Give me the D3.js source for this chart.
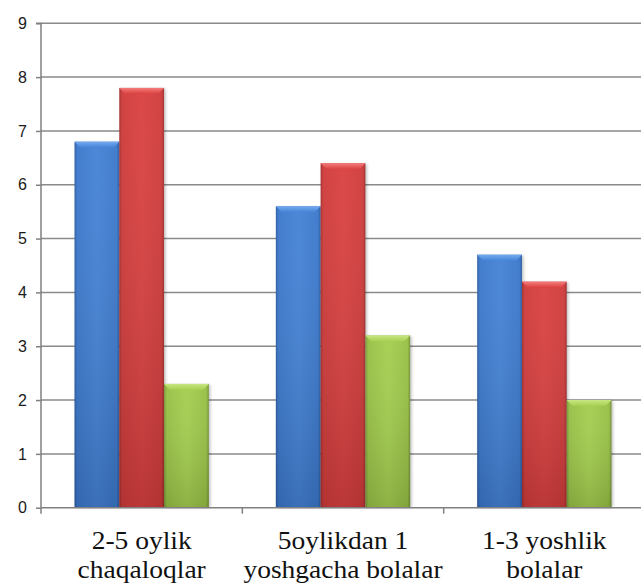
<!DOCTYPE html>
<html>
<head>
<meta charset="utf-8">
<script src="https://cdn.jsdelivr.net/npm/d3@7"></script>
<style>
  html, body { margin: 0; padding: 0; background: #ffffff; }
  svg { display: block; }
</style>
</head>
<body>
<svg id="chart" width="641" height="583"></svg>
<script>
// Age groups along the x axis (each label split over two lines)
const categories = ["2-5 oylik chaqaloqlar", "5oylikdan 1 yoshgacha bolalar", "1-3 yoshlik bolalar"];
const categoryLines = [["2-5 oylik", "chaqaloqlar"], ["5oylikdan 1", "yoshgacha bolalar"], ["1-3 yoshlik", "bolalar"]];
const seriesNames = ["s1", "s2", "s3"];
const seriesBlue = [6.8, 5.6, 4.7];
const seriesRed = [7.8, 6.4, 4.2];
const seriesGreen = [2.3, 3.2, 2.0];
const yTicks = [0, 1, 2, 3, 4, 5, 6, 7, 8, 9];

const palette = {
  s1: { top: "#74aaf0", light: "#4583d6", mid: "#3b78cb", dark: "#2a5ca4" },
  s2: { top: "#f57c7c", light: "#da4141", mid: "#cf3b3b", dark: "#a22d2d" },
  s3: { top: "#c8e682", light: "#a5cf50", mid: "#97c045", dark: "#739433" }
};

const rows = categories.map((c, i) => ({
  cat: c,
  lines: categoryLines[i],
  values: [
    { key: "s1", v: seriesBlue[i] },
    { key: "s2", v: seriesRed[i] },
    { key: "s3", v: seriesGreen[i] }
  ]
}));

const svg = d3.select("#chart");
const plotLeft = 41, plotRight = 645, plotTop = 23.3, plotBottom = 507.7;

const x = d3.scaleBand().domain(categories).range([plotLeft, plotRight]).padding(0);
const inner = d3.scaleBand().domain(seriesNames)
  .range([x.bandwidth() * 0.1665, x.bandwidth() * 0.8335]).padding(0);
const y = d3.scaleLinear().domain([0, 9]).range([plotBottom, plotTop]);

// Gradients for the bevelled bar look
const defs = svg.append("defs");
seriesNames.forEach(k => {
  const p = palette[k];
  const g = defs.append("linearGradient").attr("id", "body-" + k)
    .attr("x1", 0).attr("x2", 1).attr("y1", 0).attr("y2", 0);
  g.append("stop").attr("offset", "0%").attr("stop-color", p.dark);
  g.append("stop").attr("offset", "6%").attr("stop-color", p.mid);
  g.append("stop").attr("offset", "50%").attr("stop-color", p.light);
  g.append("stop").attr("offset", "94%").attr("stop-color", p.mid);
  g.append("stop").attr("offset", "100%").attr("stop-color", p.dark);
  const v = defs.append("linearGradient").attr("id", "shade-" + k)
    .attr("x1", 0).attr("x2", 0).attr("y1", 0).attr("y2", 1);
  v.append("stop").attr("offset", "0%").attr("stop-color", "#fff").attr("stop-opacity", 0.04);
  v.append("stop").attr("offset", "100%").attr("stop-color", "#000").attr("stop-opacity", 0.14);
  const t = defs.append("linearGradient").attr("id", "top-" + k)
    .attr("x1", 0).attr("x2", 0).attr("y1", 0).attr("y2", 1);
  t.append("stop").attr("offset", "0%").attr("stop-color", p.top);
  t.append("stop").attr("offset", "100%").attr("stop-color", p.light);
});
const blur = defs.append("filter").attr("id", "shadow")
  .attr("x", "-20%").attr("y", "-5%").attr("width", "140%").attr("height", "110%");
blur.append("feGaussianBlur").attr("stdDeviation", 1.5);

// Horizontal gridlines
svg.append("g")
  .selectAll("line").data(yTicks.filter(d => d > 0)).join("line")
  .attr("x1", plotLeft).attr("x2", 641)
  .attr("y1", d => y(d)).attr("y2", d => y(d))
  .attr("stroke", "#8a8a8a").attr("stroke-width", 1.5);

// Bars
const groups = svg.append("g").selectAll("g").data(rows).join("g")
  .attr("transform", d => `translate(${x(d.cat)},0)`);

const bars = groups.selectAll("g").data(d => d.values).join("g");

// soft shadow behind each bar
bars.append("rect")
  .attr("x", d => inner(d.key) + 1.5)
  .attr("y", d => y(d.v) + 1)
  .attr("width", inner.bandwidth())
  .attr("height", d => y(0) - y(d.v) - 1)
  .attr("fill", "#000").attr("opacity", 0.25)
  .attr("filter", "url(#shadow)");

bars.append("rect")
  .attr("x", d => inner(d.key))
  .attr("y", d => y(d.v))
  .attr("width", inner.bandwidth())
  .attr("height", d => y(0) - y(d.v))
  .attr("fill", d => `url(#body-${d.key})`);

bars.append("rect")
  .attr("x", d => inner(d.key))
  .attr("y", d => y(d.v))
  .attr("width", inner.bandwidth())
  .attr("height", d => y(0) - y(d.v))
  .attr("fill", d => `url(#shade-${d.key})`);

// top bevel
bars.append("path")
  .attr("d", d => {
    const x0 = inner(d.key), w = inner.bandwidth(), yt = y(d.v), b = 6;
    return `M${x0},${yt} L${x0 + w},${yt} L${x0 + w - b},${yt + b} L${x0 + b},${yt + b} Z`;
  })
  .attr("fill", d => `url(#top-${d.key})`);

// Y axis
const yAxis = d3.axisLeft(y).tickValues(yTicks).tickSize(5).tickPadding(9)
  .tickFormat(d3.format("d"));
const gy = svg.append("g").attr("transform", `translate(${plotLeft},0)`).call(yAxis);
gy.select(".domain").attr("stroke", "#808080").attr("stroke-width", 1.5).attr("d", `M-5,${plotTop}H0V${plotBottom}`);
gy.selectAll(".tick line").attr("stroke", "#808080").attr("stroke-width", 1.5);
gy.selectAll(".tick text")
  .style("font-family", '"Liberation Sans"')
  .style("font-size", "16px").attr("fill", "#1a1a1a");

// X axis line and ticks at category boundaries
svg.append("line").attr("x1", plotLeft).attr("x2", 641)
  .attr("y1", plotBottom).attr("y2", plotBottom)
  .attr("stroke", "#808080").attr("stroke-width", 1.5);
const boundaries = categories.map(c => x(c)).concat([x(categories[categories.length - 1]) + x.bandwidth()]);
svg.append("g").selectAll("line").data(boundaries).join("line")
  .attr("x1", d => d).attr("x2", d => d)
  .attr("y1", plotBottom).attr("y2", plotBottom + 6)
  .attr("stroke", "#808080").attr("stroke-width", 1.5);

// Category labels
const labels = svg.append("g").selectAll("text").data(rows).join("text")
  .style("font-family", '"Liberation Serif"')
  .style("font-size", "25px").attr("fill", "#111").attr("text-anchor", "middle")
  .attr("transform", d => `translate(${x(d.cat) + x.bandwidth() / 2},0) scale(1.1,1)`);
labels.selectAll("tspan").data(d => d.lines).join("tspan")
  .attr("x", 0).attr("y", (d, i) => 549 + i * 29).text(d => d);
</script>
</body>
</html>
